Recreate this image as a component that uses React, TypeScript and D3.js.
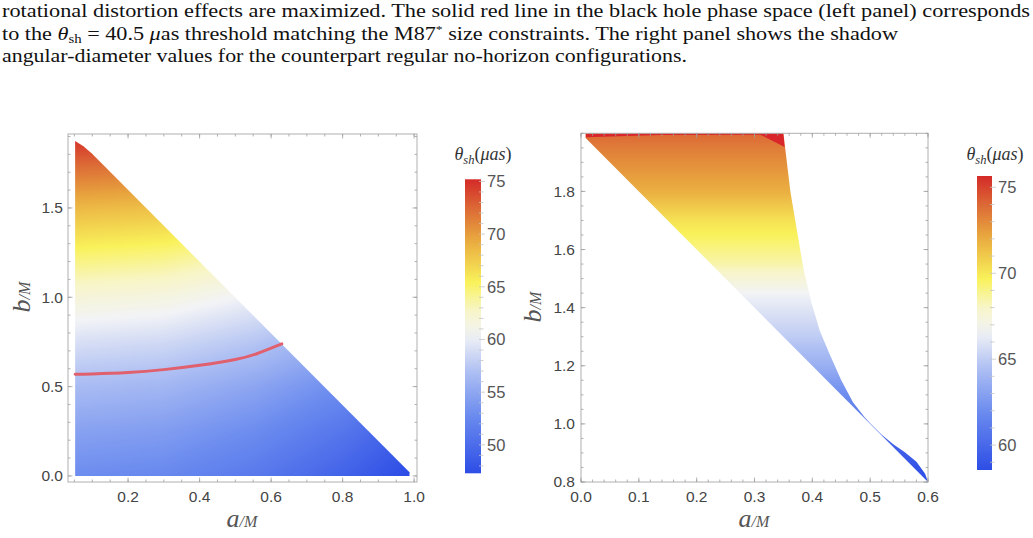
import React, { useMemo } from "react";
import * as d3 from "d3";

const W = 1033;
const H = 538;

// ---------- caption ----------
const captionLine1 =
  "rotational distortion effects are maximized. The solid red line in the black hole phase space (left panel) corresponds";
const captionLine3 =
  "angular-diameter values for the counterpart regular no-horizon configurations.";

// ---------- colour map (blue → white → yellow → red) ----------
const colorStops = [0, 0.2, 0.35, 0.47, 0.56, 0.65, 0.8, 0.9, 1];
const colorHex = ["#2d4de6", "#6c8cef", "#b0c1f3", "#f2f3f6", "#f8f5c4", "#f9f25a", "#e8a53e", "#dc6a36", "#d42a28"];

// ---------- left panel: black hole phase space ----------
const bhA = [0.05, 0.3, 0.55, 0.8, 1.0];
const bhB = [0, 0.25, 0.5, 0.75, 1.0, 1.25, 1.5, 1.75, 1.9];
const bhTheta = [
  [52.9, 52.5, 51.2, 49.2, 47.0],
  [54.6, 54.2, 52.9, 50.9, 48.6],
  [56.6, 56.2, 54.9, 52.9, 50.6],
  [59.1, 58.7, 57.4, 55.4, 53.1],
  [61.9, 61.5, 60.2, 58.2, 55.9],
  [65.1, 64.7, 63.4, 61.4, 59.1],
  [68.6, 68.2, 66.9, 64.9, 62.6],
  [72.6, 72.2, 70.9, 68.9, 66.6],
  [75.1, 74.7, 73.4, 71.4, 69.1],
];
const bhEdgeA = [0.052, 0.052, 0.075, 0.098, 0.987, 0.987];
const bhEdgeB = [0, 1.875, 1.845, 1.806, 0.02, 0];
const contourA = [0.052, 0.1, 0.2, 0.3, 0.4, 0.5, 0.56, 0.63];
const contourB = [0.569, 0.571, 0.579, 0.595, 0.619, 0.652, 0.684, 0.739];
const bhRange = [47.3, 75.2];
const bhBarTicks = [50, 55, 60, 65, 70, 75];

// ---------- right panel: regular no-horizon configurations ----------
const nhB = [0.8, 0.85, 1.0, 1.1, 1.2, 1.3, 1.45, 1.55, 1.7, 1.8, 1.95, 2.0];
const nhTheta = [58.6, 58.9, 60.6, 62.0, 63.7, 65.0, 66.6, 68.5, 70.2, 71.9, 73.4, 74.0];
const nhEdgeA = [0.008, 0.35, 0.353, 0.362, 0.373, 0.385, 0.398, 0.413, 0.43, 0.45, 0.47, 0.49, 0.5, 0.52, 0.54, 0.56, 0.58, 0.595, 0.6, 0.008];
const nhEdgeB = [2.0, 2.0, 1.95, 1.8, 1.67, 1.53, 1.42, 1.32, 1.24, 1.15, 1.075, 1.024, 1.002, 0.963, 0.93, 0.902, 0.87, 0.828, 0.8, 1.984];
const nhSatA = [0.008, 0.35, 0.352, 0.31, 0.137, 0.008];
const nhSatB = [2.0, 2.0, 1.953, 1.995, 1.994, 1.986];
const nhRange = [58.55, 75.66];
const nhBarTicks = [60, 65, 70, 75];

// ---------- scales ----------
const leftX = d3.scaleLinear().domain([0.032, 1.008]).range([68, 417]);
const leftY = d3.scaleLinear().domain([-0.034, 1.914]).range([482, 134]);
const rightX = d3.scaleLinear().domain([0, 0.6]).range([581, 928]);
const rightY = d3.scaleLinear().domain([0.8, 2.0]).range([482, 133.3]);

const colorT = d3.scaleLinear<string>().domain(colorStops).range(colorHex).interpolate(d3.interpolateRgb).clamp(true);

function lut() {
  const out: number[][] = [];
  for (let i = 0; i < 512; i++) {
    const c = d3.rgb(colorT(i / 511));
    out.push([c.r, c.g, c.b]);
  }
  return out;
}

function bhThetaAt(a: number, b: number) {
  const ia = Math.max(0, Math.min(bhA.length - 2, d3.bisectRight(bhA, a) - 1));
  const ib = Math.max(0, Math.min(bhB.length - 2, d3.bisectRight(bhB, b) - 1));
  const fa = Math.max(0, Math.min(1, (a - bhA[ia]) / (bhA[ia + 1] - bhA[ia])));
  const fb = Math.max(0, Math.min(1, (b - bhB[ib]) / (bhB[ib + 1] - bhB[ib])));
  const v00 = bhTheta[ib][ia], v01 = bhTheta[ib][ia + 1];
  const v10 = bhTheta[ib + 1][ia], v11 = bhTheta[ib + 1][ia + 1];
  return (v00 * (1 - fa) + v01 * fa) * (1 - fb) + (v10 * (1 - fa) + v11 * fa) * fb;
}

const nhInterp = d3.scaleLinear().domain(nhB).range(nhTheta).clamp(true);
function nhThetaAt(_a: number, b: number) {
  return nhInterp(b);
}

function renderField(
  xs: d3.ScaleLinear<number, number>,
  ys: d3.ScaleLinear<number, number>,
  thetaAt: (a: number, b: number) => number,
  range: number[]
) {
  const [x0, x1] = xs.range();
  const [y1, y0] = ys.range();
  const w = Math.ceil(x1 - x0);
  const h = Math.ceil(y1 - y0);
  const canvas = document.createElement("canvas");
  canvas.width = w;
  canvas.height = h;
  const ctx = canvas.getContext("2d");
  if (!ctx) return { href: "", x: x0, y: y0, w, h };
  const img = ctx.createImageData(w, h);
  const table = lut();
  const tScale = d3.scaleLinear().domain(range).range([0, 511]).clamp(true);
  for (let py = 0; py < h; py++) {
    const b = ys.invert(y0 + py + 0.5);
    for (let px = 0; px < w; px++) {
      const a = xs.invert(x0 + px + 0.5);
      const c = table[Math.round(tScale(thetaAt(a, b)))];
      const k = (py * w + px) * 4;
      img.data[k] = c[0];
      img.data[k + 1] = c[1];
      img.data[k + 2] = c[2];
      img.data[k + 3] = 255;
    }
  }
  ctx.putImageData(img, 0, 0);
  return { href: canvas.toDataURL(), x: x0, y: y0, w, h };
}

function polyPath(xs: d3.ScaleLinear<number, number>, ys: d3.ScaleLinear<number, number>, A: number[], B: number[]) {
  const pts = A.map((a, i) => [xs(a), ys(B[i])] as [number, number]);
  return (d3.line()(pts) || "") + "Z";
}

function range(start: number, stop: number, step: number) {
  const n = Math.round((stop - start) / step);
  return d3.range(n + 1).map((i) => +(start + i * step).toFixed(4));
}

const fmt = d3.format(".1f");
const tickFont = "'Liberation Sans', Arial, sans-serif";
const serif = "'Liberation Serif', 'Times New Roman', serif";

type FrameProps = {
  xs: d3.ScaleLinear<number, number>;
  ys: d3.ScaleLinear<number, number>;
  xMajor: number[];
  xMinor: number[];
  yMajor: number[];
  yMinor: number[];
  yLabelX: number;
};

function Frame({ xs, ys, xMajor, xMinor, yMajor, yMinor, yLabelX }: FrameProps) {
  const [x0, x1] = xs.range();
  const [y1, y0] = ys.range();
  const tc = "#a0a0a0";
  const inX = (v: number) => v >= xs.domain()[0] - 1e-9 && v <= xs.domain()[1] + 1e-9;
  const inY = (v: number) => v >= ys.domain()[0] - 1e-9 && v <= ys.domain()[1] + 1e-9;
  return (
    <g>
      <rect x={x0} y={y0} width={x1 - x0} height={y1 - y0} fill="none" stroke="#b0b0b0" strokeWidth={1} />
      {xMinor.filter(inX).map((v) => (
        <g key={"xm" + v} stroke={tc} strokeWidth={0.8}>
          <line x1={xs(v)} x2={xs(v)} y1={y1} y2={y1 - 2.5} />
          <line x1={xs(v)} x2={xs(v)} y1={y0} y2={y0 + 2.5} />
        </g>
      ))}
      {xMajor.filter(inX).map((v) => (
        <g key={"xM" + v} stroke={tc} strokeWidth={0.8}>
          <line x1={xs(v)} x2={xs(v)} y1={y1} y2={y1 - 4.5} />
          <line x1={xs(v)} x2={xs(v)} y1={y0} y2={y0 + 4.5} />
        </g>
      ))}
      {yMinor.filter(inY).map((v) => (
        <g key={"ym" + v} stroke={tc} strokeWidth={0.8}>
          <line x1={x0} x2={x0 + 2.5} y1={ys(v)} y2={ys(v)} />
          <line x1={x1} x2={x1 - 2.5} y1={ys(v)} y2={ys(v)} />
        </g>
      ))}
      {yMajor.filter(inY).map((v) => (
        <g key={"yM" + v} stroke={tc} strokeWidth={0.8}>
          <line x1={x0} x2={x0 + 4.5} y1={ys(v)} y2={ys(v)} />
          <line x1={x1} x2={x1 - 4.5} y1={ys(v)} y2={ys(v)} />
        </g>
      ))}
      {xMajor.filter(inX).map((v) => (
        <text key={"xl" + v} x={xs(v)} y={502} textAnchor="middle" fontFamily={tickFont} fontSize={15.5} fill="#444">
          {fmt(v)}
        </text>
      ))}
      {yMajor.filter(inY).map((v) => (
        <text key={"yl" + v} x={yLabelX} y={ys(v)} dy="0.35em" textAnchor="end" fontFamily={tickFont} fontSize={15.5} fill="#444">
          {fmt(v)}
        </text>
      ))}
    </g>
  );
}

function AxisLabelA({ x }: { x: number }) {
  return (
    <text x={x} y={527} textAnchor="middle" fontFamily={serif} fontStyle="italic" fill="#555">
      <tspan fontSize={26}>a</tspan>
      <tspan fontSize={16}>/M</tspan>
    </text>
  );
}

function AxisLabelB({ x, y }: { x: number; y: number }) {
  return (
    <text transform={`translate(${x},${y}) rotate(-90)`} textAnchor="middle" fontFamily={serif} fontStyle="italic" fill="#555">
      <tspan fontSize={26}>b</tspan>
      <tspan fontSize={16}>/M</tspan>
    </text>
  );
}

type BarProps = { id: string; x: number; w: number; top: number; bottom: number; dom: number[]; ticks: number[]; labelX: number; titleX: number };

function ColorBar({ id, x, w, top, bottom, dom, ticks, labelX, titleX }: BarProps) {
  const ys = d3.scaleLinear().domain(dom).range([bottom, top]);
  const stops = d3.range(0, 1.0001, 0.05);
  const minor = d3.range(Math.ceil(dom[0]), Math.floor(dom[1]) + 1);
  return (
    <g>
      <defs>
        <linearGradient id={id} x1="0" y1="1" x2="0" y2="0">
          {stops.map((s) => (
            <stop key={s} offset={s} stopColor={colorT(s)} />
          ))}
        </linearGradient>
      </defs>
      <rect x={x} y={top} width={w} height={bottom - top} fill={`url(#${id})`} />
      {minor.map((v) => (
        <line key={v} x1={x + w - 2} x2={x + w + (ticks.includes(v) ? 4 : 2.5)} y1={ys(v)} y2={ys(v)} stroke="#c4c4c4" strokeWidth={0.8} />
      ))}
      {ticks.map((v) => (
        <text key={"t" + v} x={labelX} y={ys(v)} dy="0.35em" fontFamily={tickFont} fontSize={16.5} fill="#555">
          {v}
        </text>
      ))}
      <text x={titleX} y={160} textAnchor="middle" fontFamily={serif} fill="#333">
        <tspan fontStyle="italic" fontSize={18}>θ</tspan>
        <tspan fontStyle="italic" fontSize={12.5} dy={4}>sh</tspan>
        <tspan fontSize={18} dy={-4}>(</tspan>
        <tspan fontStyle="italic" fontSize={18}>μas</tspan>
        <tspan fontSize={18}>)</tspan>
      </text>
    </g>
  );
}

export default function App() {
  const bhField = useMemo(() => renderField(leftX, leftY, bhThetaAt, bhRange), []);
  const nhField = useMemo(() => renderField(rightX, rightY, nhThetaAt, nhRange), []);

  const bhClip = polyPath(leftX, leftY, bhEdgeA, bhEdgeB);
  const nhClip = polyPath(rightX, rightY, nhEdgeA, nhEdgeB);
  const nhSat = polyPath(rightX, rightY, nhSatA, nhSatB);
  const contour = d3
    .line<number>()
    .x((a) => leftX(a))
    .y((_a, i) => leftY(contourB[i]))
    .curve(d3.curveNatural)(contourA) || "";

  return (
    <div style={{ position: "absolute", left: 0, top: 0 }}>
      <svg width={W} height={H} viewBox={`0 0 ${W} ${H}`} style={{ display: "block", background: "#fff" }}>
        <defs>
          <clipPath id="bhClip">
            <path d={bhClip} />
          </clipPath>
          <clipPath id="nhClip">
            <path d={nhClip} />
          </clipPath>
        </defs>

        {/* caption */}
        <g fontFamily={serif} fontSize={18} fill="#111">
          <text x={2} y={17} textLength={1028} lengthAdjust="spacingAndGlyphs">
            {captionLine1}
          </text>
          <text x={2} y={39.5} textLength={896} lengthAdjust="spacingAndGlyphs">
            {"to the "}
            <tspan fontStyle="italic">θ</tspan>
            <tspan fontSize={12} dy={3}>{"sh"}</tspan>
            <tspan dy={-3}>{" = 40.5 "}</tspan>
            <tspan fontStyle="italic">μ</tspan>
            <tspan>{"as threshold matching the M87"}</tspan>
            <tspan fontSize={11} dy={-7}>{"*"}</tspan>
            <tspan dy={7}>{" size constraints. The right panel shows the shadow"}</tspan>
          </text>
          <text x={2} y={61.5} textLength={685} lengthAdjust="spacingAndGlyphs">
            {captionLine3}
          </text>
        </g>

        {/* left panel */}
        <image href={bhField.href} x={bhField.x} y={bhField.y} width={bhField.w} height={bhField.h} clipPath="url(#bhClip)" preserveAspectRatio="none" />
        <path d={contour} fill="none" stroke="#e0606e" strokeWidth={3} strokeLinecap="round" />
        <Frame
          xs={leftX}
          ys={leftY}
          xMajor={[0.2, 0.4, 0.6, 0.8, 1.0]}
          xMinor={range(0.05, 1.0, 0.05)}
          yMajor={[0, 0.5, 1.0, 1.5]}
          yMinor={range(0, 1.9, 0.1)}
          yLabelX={63}
        />
        <AxisLabelA x={242} />
        <AxisLabelB x={30} y={297} />
        <ColorBar id="bhBar" x={465} w={16} top={179.3} bottom={473.3} dom={bhRange} ticks={bhBarTicks} labelX={487} titleX={483} />

        {/* right panel */}
        <image href={nhField.href} x={nhField.x} y={nhField.y} width={nhField.w} height={nhField.h} clipPath="url(#nhClip)" preserveAspectRatio="none" />
        <path d={nhSat} fill="#d8262a" clipPath="url(#nhClip)" />
        <Frame
          xs={rightX}
          ys={rightY}
          xMajor={[0, 0.1, 0.2, 0.3, 0.4, 0.5, 0.6]}
          xMinor={range(0, 0.6, 0.02)}
          yMajor={[0.8, 1.0, 1.2, 1.4, 1.6, 1.8]}
          yMinor={range(0.8, 2.0, 0.05)}
          yLabelX={575}
        />
        <AxisLabelA x={754} />
        <AxisLabelB x={541} y={307} />
        <ColorBar id="nhBar" x={977} w={15} top={176} bottom={470} dom={nhRange} ticks={nhBarTicks} labelX={998} titleX={995} />
      </svg>
    </div>
  );
}
